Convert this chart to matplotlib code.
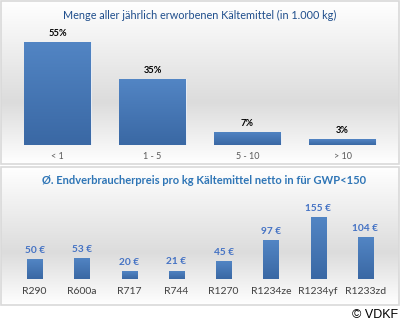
import matplotlib
matplotlib.use("Agg")
import matplotlib.pyplot as plt
import numpy as np
from matplotlib.patches import Rectangle
from matplotlib.colors import LinearSegmentedColormap

plt.rcParams['font.family'] = ['Lato', 'DejaVu Sans']

# Data
top_title = "Menge aller jährlich erworbenen Kältemittel (in 1.000 kg)"
top_categories = ["< 1", "1 - 5", "5 - 10", "> 10"]
top_values = [55, 35, 7, 3]
top_labels = ["55%", "35%", "7%", "3%"]

bot_title = "Ø. Endverbraucherpreis pro kg Kältemittel netto in für GWP<150"
bot_categories = ["R290", "R600a", "R717", "R744", "R1270", "R1234ze", "R1234yf", "R1233zd"]
bot_values = [50, 53, 20, 21, 45, 97, 155, 104]
bot_labels = ["50 €", "53 €", "20 €", "21 €", "45 €", "97 €", "155 €", "104 €"]

W, H = 400, 326
fig = plt.figure(figsize=(W / 100, H / 100), dpi=100)
fig.patch.set_facecolor("white")


def px_axes(x0, y0, x1, y1, **kw):
    """Axes from pixel box (top-left origin)."""
    return fig.add_axes([x0 / W, 1 - y1 / H, (x1 - x0) / W, (y1 - y0) / H], **kw)


bg_cmap = LinearSegmentedColormap.from_list(
    "bg", [(0.0, "#ffffff"), (0.62, "#dcdcdc"), (1.0, "#ffffff")])


def panel(x0, y0, x1, y1):
    ax = px_axes(x0, y0, x1, y1)
    grad = np.linspace(0, 1, 256).reshape(-1, 1)
    ax.imshow(grad, aspect="auto", cmap=bg_cmap, extent=[0, 1, 1, 0], vmin=0, vmax=1)
    ax.add_patch(Rectangle((0, 0), 1, 1, transform=ax.transAxes, fill=False,
                           edgecolor="#d9d9d9", linewidth=1.2, clip_on=False))
    ax.set_xlim(0, 1)
    ax.set_ylim(1, 0)
    ax.axis("off")
    return ax


panel(1, 1, 399, 164)
panel(1, 167, 399, 305)

bar_cmap = LinearSegmentedColormap.from_list("bar", ["#3a68a4", "#5285c4"])


def grad_bars(ax, bars):
    for b in bars:
        x, y = b.get_x(), b.get_y()
        w, h = b.get_width(), b.get_height()
        g = np.linspace(0, 1, 64).reshape(-1, 1)
        im = ax.imshow(g, aspect="auto", cmap=bar_cmap, origin="lower",
                       extent=[x, x + w, y, y + h], zorder=3)
        im.set_clip_path(b)
        b.set_facecolor("none")
        b.set_edgecolor("#e8eef7")
        b.set_linewidth(0.6)


# Top chart
ax1 = px_axes(10, 30, 390, 145)
ax1.patch.set_alpha(0)
xs1 = np.arange(len(top_categories))
bars1 = ax1.bar(xs1, top_values, width=0.705, zorder=3)
grad_bars(ax1, bars1)
ax1.set_xlim(-0.5, len(top_categories) - 0.5)
ax1.set_ylim(0, 115 / 1.873)
for b, lab in zip(bars1, top_labels):
    ax1.annotate(lab, (b.get_x() + b.get_width() / 2, b.get_height()),
                 xytext=(0, 3), textcoords="offset points", ha="center", va="bottom",
                 fontsize=6.7, fontweight="bold", color="#000000")
ax1.set_xticks(xs1)
ax1.set_xticklabels(top_categories, fontsize=6.5, color="#595959")
ax1.tick_params(axis="x", length=0, pad=5)
ax1.set_yticks([])
for s in ax1.spines.values():
    s.set_visible(False)
fig.text(200 / W, 1 - 15 / H, top_title, ha="center", va="center",
         fontsize=7.8, color="#1f4e8c")

# Bottom chart
ax2 = px_axes(11, 200, 389, 279)
ax2.patch.set_alpha(0)
xs2 = np.arange(len(bot_categories))
bars2 = ax2.bar(xs2, bot_values, width=0.32, zorder=3)
grad_bars(ax2, bars2)
ax2.set_xlim(-0.5, len(bot_categories) - 0.5)
ax2.set_ylim(0, 79 / 0.4)
for b, lab in zip(bars2, bot_labels):
    ax2.annotate(lab, (b.get_x() + b.get_width() / 2, b.get_height()),
                 xytext=(0, 3), textcoords="offset points", ha="center", va="bottom",
                 fontsize=7.3, fontweight="bold", color="#4472c4")
ax2.set_xticks(xs2)
ax2.set_xticklabels(bot_categories, fontsize=7.5, color="#404040")
ax2.tick_params(axis="x", length=0, pad=6)
ax2.set_yticks([])
for s in ax2.spines.values():
    s.set_visible(False)
fig.text(204 / W, 1 - 180 / H, bot_title, ha="center", va="center",
         fontsize=8.0, fontweight="bold", color="#2e75b6")

fig.text(398 / W, 1 - 315 / H, "© VDKF", ha="right", va="center",
         fontsize=9, color="#000000", family=["Liberation Sans", "DejaVu Sans"])

fig.savefig("out.png", dpi=100, facecolor="white")
